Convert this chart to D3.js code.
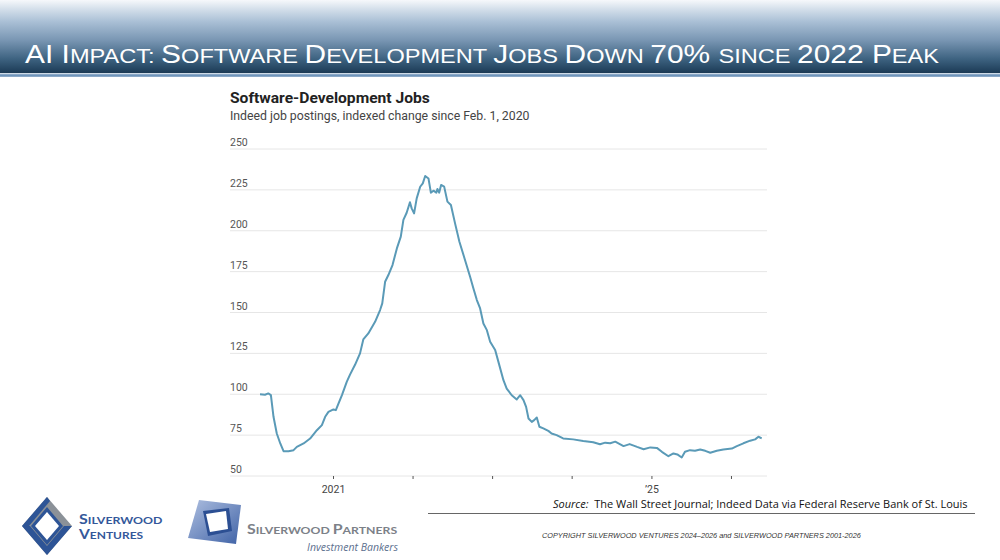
<!DOCTYPE html>
<html>
<head>
<meta charset="utf-8">
<script src="https://cdn.jsdelivr.net/npm/d3@7"></script>
<style>
  body { margin: 0; background: #fff; }
  svg { display: block; }
</style>
</head>
<body>
<svg id="chart" width="1000" height="560"></svg>
<script>
// Indeed software-development postings, index (Feb. 1, 2020 = 100)
var dates = ["2020-02-01","2020-02-24","2020-03-10","2020-03-22","2020-04-03","2020-04-18","2020-05-04","2020-05-19","2020-06-11","2020-07-04","2020-07-19","2020-08-19","2020-09-18","2020-10-19","2020-11-11","2020-11-26","2020-12-11",
  "2021-01-03","2021-01-14","2021-01-26","2021-02-11","2021-03-05","2021-03-20","2021-04-12","2021-05-05","2021-05-20","2021-06-12","2021-07-13","2021-08-05","2021-08-15","2021-08-28","2021-09-12","2021-10-01","2021-10-21","2021-11-08","2021-11-20","2021-12-05","2021-12-20","2021-12-28",
  "2022-01-08","2022-01-20","2022-02-05","2022-02-17","2022-02-28","2022-03-15","2022-03-26","2022-04-07","2022-04-20","2022-04-25","2022-05-03","2022-05-12","2022-05-26","2022-06-10","2022-06-26","2022-07-15","2022-08-04","2022-08-30","2022-09-22","2022-10-07","2022-10-23","2022-11-07","2022-11-22","2022-12-08","2022-12-23",
  "2023-01-15","2023-01-30","2023-02-22","2023-03-09","2023-04-01","2023-04-24","2023-05-10","2023-05-25","2023-06-06","2023-06-17","2023-07-02","2023-07-13","2023-07-25","2023-08-06","2023-08-24","2023-09-16","2023-10-01","2023-10-24","2023-11-23",
  "2024-01-08","2024-02-23","2024-04-09","2024-05-10","2024-06-03","2024-06-26","2024-07-19","2024-08-26","2024-09-23","2024-10-27","2024-11-26","2024-12-27",
  "2025-01-26","2025-02-18","2025-03-20","2025-04-12","2025-04-30","2025-05-20","2025-06-04","2025-06-27","2025-07-20","2025-08-13","2025-09-05","2025-09-28","2025-10-28","2025-11-27",
  "2026-01-05","2026-01-28","2026-02-27","2026-03-30","2026-04-22","2026-05-07","2026-05-22"];
var jobIndex = [100.0,99.7,100.5,99.5,86.2,76,69.9,65.2,65.2,65.8,67.8,69.9,72.9,78,81.1,86.2,89.2,
  90.7,90.3,94.3,99.5,107.6,112,118,125,133.5,137.2,144.3,151.5,155.6,168.8,172.9,179,189.2,196.4,206.6,211,217.4,213.7,
  210.6,219.8,226.9,229,233.5,232,223.3,224.5,223.3,225.5,223.3,228,227,217.8,215.7,204.5,193.3,182,171.9,164.8,157.6,152.5,143.3,139.2,132.1,
  127,119.8,108.6,103.5,99.4,96.8,99.4,96.4,92.3,85.2,83.1,84.2,85.8,80.1,79.1,77.6,76,75,73,
  72.4,71.4,70.6,69.4,70.4,70,71,68.3,69.5,67.8,66.4,67.5,
  67.2,64.8,62.1,63.8,63.2,61.3,64.8,65.8,65.4,66.2,65.4,64.2,65.4,66.2,
  66.8,68.3,70,71.6,72.4,74,73];
var yTicks = [50, 75, 100, 125, 150, 175, 200, 225, 250];
var xTickDates = ["2021-01-01","2022-01-01","2023-01-01","2024-01-01","2025-01-01","2026-01-01"];
var xTickLabels = ["2021", "", "", "", "\u201925", ""];

// headline in small caps: [text, big?]
var headlineParts = [["AI ", 1], ["I", 1], ["MPACT: ", 0], ["S", 1], ["OFTWARE ", 0], ["D", 1], ["EVELOPMENT ", 0],
  ["J", 1], ["OBS ", 0], ["D", 1], ["OWN ", 0], ["70% ", 1], ["SINCE ", 0], ["2022 ", 1], ["P", 1], ["EAK", 0]];

var parseDate = d3.timeParse("%Y-%m-%d");
var data = dates.map(function (d, i) { return { date: parseDate(d), value: jobIndex[i] }; });

var svg = d3.select("#chart");

// squeeze a text to a given width starting at x0
function fitWidth(sel, x0, w) {
  var bw = sel.node().getBBox().width;
  var k = w / bw;
  sel.attr("transform", "translate(" + x0 + ",0) scale(" + k + ",1) translate(" + (-x0) + ",0)");
}

// ---- header band ----
var defs = svg.append("defs");
var hg = defs.append("linearGradient").attr("id", "headGrad").attr("x1", 0).attr("y1", 0).attr("x2", 0).attr("y2", 1);
[["0", "#f6f8fb"], ["0.12", "#d5e0eb"], ["0.3", "#a9bfd5"], ["0.55", "#7996b3"], ["0.8", "#3f6482"], ["1", "#1b3a55"]].forEach(function (s) {
  hg.append("stop").attr("offset", s[0]).attr("stop-color", s[1]);
});
svg.append("rect").attr("x", 0).attr("y", 0).attr("width", 1000).attr("height", 73).attr("fill", "url(#headGrad)");
svg.append("rect").attr("x", 0).attr("y", 73).attr("width", 1000).attr("height", 1.2).attr("fill", "#cfdbe7");
svg.append("rect").attr("x", 0).attr("y", 74.2).attr("width", 1000).attr("height", 2.6).attr("fill", "#6f95bb");

var headline = svg.append("text")
  .attr("x", 25).attr("y", 63.5)
  .style("white-space", "pre")
  .attr("font-family", "'Liberation Sans', Arial, sans-serif")
  .attr("fill", "#fff");
headline.selectAll("tspan").data(headlineParts).enter().append("tspan")
  .attr("font-size", function (d) { return d[1] ? 26 : 20.5; })
  .text(function (d) { return d[0]; });
fitWidth(headline, 25, 915);

// ---- chart ----
var x = d3.scaleTime().domain([parseDate("2020-02-01"), parseDate("2026-05-22")]).range([260, 761.7]);
var y = d3.scaleLinear().domain([50, 250]).range([476, 149]);
var chartFont = "'Liberation Sans Narrow', 'Roboto', sans-serif";

var title = svg.append("text").attr("x", 230).attr("y", 103)
  .attr("font-family", chartFont).attr("font-weight", "bold").attr("font-size", 15.5)
  .attr("fill", "#222").text("Software-Development Jobs");
fitWidth(title, 230, 200);
var sub = svg.append("text").attr("x", 230).attr("y", 120.5)
  .attr("font-family", chartFont).attr("font-size", 13)
  .attr("fill", "#444").text("Indeed job postings, indexed change since Feb. 1, 2020");
fitWidth(sub, 230, 300);

var grid = svg.append("g").attr("class", "grid");
grid.selectAll("line").data(yTicks).enter().append("line")
  .attr("x1", 230).attr("x2", 767)
  .attr("y1", function (d) { return y(d); }).attr("y2", function (d) { return y(d); })
  .attr("stroke", "#e6e6e6").attr("stroke-width", 1);
grid.selectAll("text").data(yTicks).enter().append("text")
  .attr("x", 230).attr("y", function (d) { return y(d) - 3; })
  .attr("font-family", chartFont).attr("font-size", 10.5).attr("fill", "#555")
  .text(function (d) { return d; });

var xAxis = d3.axisBottom(x)
  .tickValues(xTickDates.map(parseDate))
  .tickSize(3).tickPadding(7)
  .tickFormat(function (d, i) { return xTickLabels[i]; });
var gx = svg.append("g").attr("transform", "translate(0,476)").call(xAxis);
gx.select(".domain").remove();
gx.selectAll(".tick line").attr("stroke", "#555");
gx.selectAll(".tick text").attr("font-family", chartFont).attr("font-size", 10.5).attr("fill", "#444");

var line = d3.line()
  .x(function (d) { return x(d.date); })
  .y(function (d) { return y(d.value); });
svg.append("path").datum(data)
  .attr("d", line)
  .attr("fill", "none")
  .attr("stroke", "#5a9ab7")
  .attr("stroke-width", 2)
  .attr("stroke-linejoin", "round");

// ---- source + rule + copyright ----
var src = svg.append("text").attr("x", 553).attr("y", 508)
  .attr("font-family", "'Open Sans', 'Liberation Sans', sans-serif").attr("font-size", 11.5).attr("fill", "#111")
  .style("white-space", "pre");
src.append("tspan").attr("font-style", "italic").text("Source:");
src.append("tspan").text("  The Wall Street Journal; Indeed Data via Federal Reserve Bank of St. Louis");
fitWidth(src, 553, 415);

svg.append("line").attr("x1", 428).attr("x2", 975).attr("y1", 513.5).attr("y2", 513.5)
  .attr("stroke", "#666").attr("stroke-width", 1);

var copy = svg.append("text").attr("x", 542).attr("y", 538)
  .attr("font-family", "'Liberation Sans', Arial, sans-serif").attr("font-size", 7.5)
  .attr("font-style", "italic").attr("fill", "#333")
  .text("COPYRIGHT SILVERWOOD VENTURES 2024\u20132026 and SILVERWOOD PARTNERS 2001-2026");
fitWidth(copy, 542, 320);

// ---- logos ----
var lv = svg.append("g");
lv.append("polygon").attr("points", "47,497 72,526 47,555 22,526").attr("fill", "#8b9198");
lv.append("polygon").attr("points", "22,526 47,555 72,526 64,526 47,546 30,526").attr("fill", "#2d5496");
lv.append("polygon").attr("points", "22,526 47,497 50,501 29,526").attr("fill", "#2d5496");
lv.append("polygon").attr("points", "47,507 63,526 47,545 31,526").attr("fill", "#2d5496");
lv.append("polygon").attr("points", "47,512 59,526 47,540 35,526").attr("fill", "#fff");

var vText = svg.append("g").attr("font-family", "'Lato', 'Liberation Sans', sans-serif").attr("font-weight", "bold").attr("fill", "#34589a");
var t1 = vText.append("text").attr("x", 79).attr("y", 524.5);
t1.append("tspan").attr("font-size", 13).text("S");
t1.append("tspan").attr("font-size", 10).text("ILVERWOOD");
fitWidth(t1, 79, 84);
var t2 = vText.append("text").attr("x", 79).attr("y", 539);
t2.append("tspan").attr("font-size", 13).text("V");
t2.append("tspan").attr("font-size", 10).text("ENTURES");
fitWidth(t2, 79, 66);

var pg = defs.append("linearGradient").attr("id", "partGrad").attr("x1", 0).attr("y1", 0).attr("x2", 1).attr("y2", 1);
pg.append("stop").attr("offset", 0).attr("stop-color", "#aebfe0");
pg.append("stop").attr("offset", 1).attr("stop-color", "#3f62a6");
var lp = svg.append("g");
lp.append("polygon").attr("points", "199,500 241,505 236,544 188,538").attr("fill", "url(#partGrad)");
lp.append("polygon").attr("points", "203,511 229,508 232,531 208,536").attr("fill", "#2c4f93");
lp.append("polygon").attr("points", "206,514 226,511 228,529 210,532").attr("fill", "#fff");

var pText = svg.append("text").attr("x", 247).attr("y", 534)
  .attr("font-family", "'Lato', 'Liberation Sans', sans-serif").attr("font-weight", "bold").attr("fill", "#7c8188")
  .style("white-space", "pre");
pText.append("tspan").attr("font-size", 13).text("S");
pText.append("tspan").attr("font-size", 10).text("ILVERWOOD ");
pText.append("tspan").attr("font-size", 13).text("P");
pText.append("tspan").attr("font-size", 10).text("ARTNERS");
fitWidth(pText, 247, 151);

svg.append("text").attr("x", 398).attr("y", 550.5).attr("text-anchor", "end")
  .attr("font-family", "'Open Sans', 'Liberation Sans', sans-serif").attr("font-style", "italic")
  .attr("font-size", 10.5).attr("fill", "#5b6f8e").text("Investment Bankers");
</script>
</body>
</html>
